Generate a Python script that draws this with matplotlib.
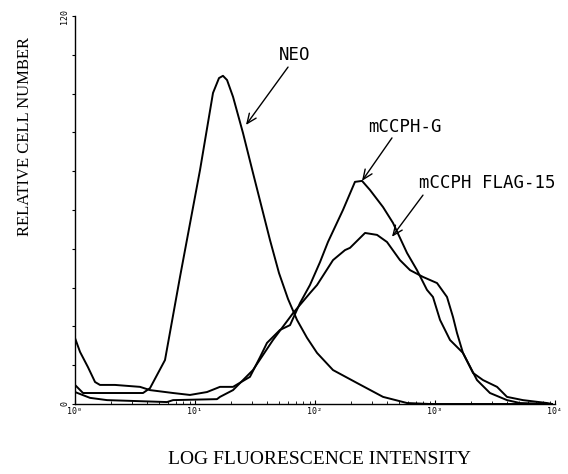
import numpy as np
import matplotlib
matplotlib.use("Agg")
import matplotlib.pyplot as plt

# ---- data (x given as log10 of fluorescence intensity, y = relative cell number) ----
neo_logx = [0.00, 0.067, 0.567, 0.625, 0.75, 0.875, 1.042, 1.15, 1.20, 1.233, 1.267,
            1.317, 1.40, 1.483, 1.625, 1.70, 1.775, 1.85, 1.933, 2.017, 2.15, 2.35,
            2.567, 2.767, 2.958, 3.975]
neo_y = [5.9, 3.4, 3.4, 4.9, 13.6, 39.3, 72.4, 96.2, 100.8, 101.5, 100.2,
         95.0, 83.8, 71.5, 50.7, 40.5, 32.5, 26.0, 20.5, 15.8, 10.5, 6.5,
         2.2, 0.3, 0.0, 0.0]

g_logx = [0.00, 0.042, 0.108, 0.167, 0.208, 0.333, 0.542, 0.625, 0.817, 0.958, 1.10,
          1.208, 1.317, 1.458, 1.542, 1.60, 1.708, 1.792, 1.875, 1.958, 2.042, 2.108,
          2.233, 2.333, 2.392, 2.458, 2.567, 2.65, 2.767, 2.85, 2.933, 2.983, 3.042,
          3.125, 3.233, 3.35, 3.458, 3.60, 3.708, 3.975]
g_y = [20.4, 16.1, 11.4, 6.8, 5.9, 5.9, 5.3, 4.3, 3.4, 2.8, 3.7,
       5.3, 5.3, 8.4, 14.5, 18.9, 22.9, 24.4, 31.2, 36.8, 43.9, 50.1,
       60.0, 68.7, 69.0, 66.2, 60.9, 56.0, 46.7, 41.4, 35.3, 33.1, 26.0,
       19.8, 15.8, 7.4, 3.4, 1.2, 0.3, 0.0]

f_logx = [0.00, 0.125, 0.267, 0.767, 0.817, 1.183, 1.208, 1.317, 1.483, 1.65, 1.817,
          1.958, 2.017, 2.15, 2.25, 2.292, 2.417, 2.517, 2.60, 2.708, 2.792, 2.90,
          3.017, 3.10, 3.15, 3.183, 3.233, 3.317, 3.40, 3.517, 3.60, 3.733, 3.933, 3.975]
f_y = [3.7, 1.9, 1.2, 0.6, 1.2, 1.5, 2.2, 4.3, 10.5, 19.8, 28.1,
       34.3, 36.8, 44.5, 47.6, 48.3, 52.9, 52.3, 50.1, 44.5, 41.4, 39.3,
       37.4, 33.1, 26.9, 22.0, 15.8, 9.6, 7.4, 5.3, 2.2, 1.2, 0.3, 0.0]

xtick_vals = [1, 10, 100, 1000, 10000]
xtick_labels = ["10\u2070", "10\u00b9", "10\u00b2", "10\u00b3", "10\u2074"]
ytick_vals = [0, 120]
ytick_labels = ["0", "120"]

# ---- figure ----
W, H = 568, 474
fig = plt.figure(figsize=(W / 100, H / 100), dpi=100)
ax = fig.add_axes([75 / W, 1 - 404 / H, 480 / W, 388 / H])

lw = 1.4
for lx, yy in [(neo_logx, neo_y), (g_logx, g_y), (f_logx, f_y)]:
    ax.plot(np.power(10.0, lx), yy, color="black", lw=lw, solid_joinstyle="round")

ax.set_xscale("log")
ax.set_xlim(1, 10000)
ax.set_ylim(0, 120)
for s in ["top", "right"]:
    ax.spines[s].set_visible(False)
for s in ["left", "bottom"]:
    ax.spines[s].set_linewidth(1.0)

ax.set_xticks(xtick_vals)
ax.set_xticklabels(xtick_labels, fontsize=6, family="DejaVu Sans Mono")
ax.set_yticks(np.arange(0, 121, 12), minor=True)
ax.set_yticks(ytick_vals)
ax.set_yticklabels(ytick_labels, fontsize=6, rotation=90, va="center",
                   family="DejaVu Sans Mono")
ax.tick_params(axis="x", which="major", direction="in", length=3, width=0.8, pad=2)
ax.tick_params(axis="x", which="minor", direction="in", length=2, width=0.6)
ax.tick_params(axis="y", which="both", direction="out", length=2, width=0.8, pad=2)

# annotations
mono = dict(family="DejaVu Sans Mono", fontsize=12.5, ha="center", va="center")
arrow = dict(arrowstyle="->,head_length=0.7,head_width=0.3", color="black", lw=1.0,
             shrinkA=0, shrinkB=0)
ax.text(68.1, 108.0, "NEO", **mono)
ax.annotate("", xy=(26.6, 86.3), xytext=(59.6, 104.2), arrowprops=arrow)
ax.text(562, 85.7, "mCCPH-G", **mono)
ax.annotate("", xy=(246.5, 69.0), xytext=(438, 82.3), arrowprops=arrow)
ax.text(2712, 68.4, "mCCPH FLAG-15", clip_on=False, **mono)
ax.annotate("", xy=(438, 51.7), xytext=(794, 64.6), arrowprops=arrow)

fig.text(320 / W, 1 - 460 / H, "LOG FLUORESCENCE INTENSITY", family="Liberation Serif",
         fontsize=14, ha="center", va="center")
fig.text(25 / W, 1 - 136 / H, "RELATIVE CELL NUMBER", family="Liberation Serif",
         fontsize=12, rotation=90, ha="center", va="center")

fig.savefig("out.png", dpi=100)
